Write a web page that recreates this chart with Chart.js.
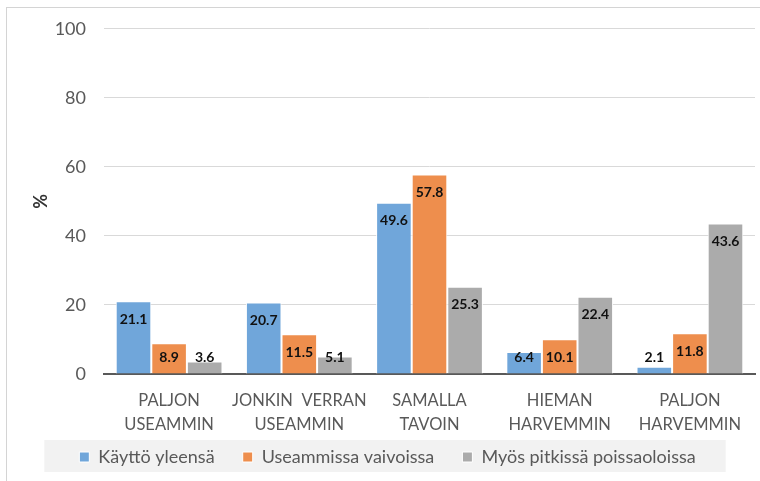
<!DOCTYPE html>
<html>
<head>
<meta charset="utf-8">
<script src="https://cdn.jsdelivr.net/npm/chart.js@4/dist/chart.umd.min.js"></script>
<style>
  html, body { margin: 0; padding: 0; background: #fff; overflow: hidden; }
  #frame { position: absolute; left: 6px; top: 7px; width: 800px; height: 520px; border: 1px solid #d4d4d4; }
  #wrap { position: absolute; left: 0; top: 0; width: 760px; height: 481px; }
</style>
</head>
<body>
<div id="frame"></div>
<div id="wrap"><canvas id="bar-chart" width="760" height="481"></canvas></div>
<script>
// カテゴリ
var categories = [
    ['PALJON', 'USEAMMIN'],
    ['JONKIN  VERRAN', 'USEAMMIN'],
    ['SAMALLA', 'TAVOIN'],
    ['HIEMAN', 'HARVEMMIN'],
    ['PALJON', 'HARVEMMIN']
];
// 系列
var seriesNames = ['Käyttö yleensä', 'Useammissa vaivoissa', 'Myös pitkissä poissaoloissa'];
var kaytto = [21.1, 20.7, 49.6, 6.4, 2.1];
var useammissa = [8.9, 11.5, 57.8, 10.1, 11.8];
var pitkissa = [3.6, 5.1, 25.3, 22.4, 43.6];
// 目盛
var yTicks = [0, 20, 40, 60, 80, 100];

var colors = ['#70A6DA', '#EE8E4D', '#ABABAB'];
var fontFamily = 'Lato, "Liberation Sans", sans-serif';

// 値ラベル（バーの上端の内側）
var valueLabels = {
    id: 'valueLabels',
    afterDatasetsDraw: function(chart) {
        var ctx = chart.ctx;
        ctx.save();
        ctx.font = 'bold 14px ' + fontFamily;
        ctx.fillStyle = '#111';
        ctx.textAlign = 'center';
        ctx.textBaseline = 'middle';
        chart.data.datasets.forEach(function(ds, i) {
            var meta = chart.getDatasetMeta(i);
            meta.data.forEach(function(bar, j) {
                var y = Math.min(bar.y + 18, bar.base - 16);
                ctx.fillText(ds.data[j].toFixed(1), bar.x, y);
            });
        });
        ctx.restore();
    }
};

// 凡例の背景
var legendBg = {
    id: 'legendBg',
    beforeDraw: function(chart) {
        var lg = chart.legend;
        if (!lg || !lg.legendHitBoxes || !lg.legendHitBoxes.length) return;
        var boxes = lg.legendHitBoxes;
        var first = boxes[0], last = boxes[boxes.length - 1];
        var ctx = chart.ctx;
        ctx.save();
        ctx.fillStyle = '#f2f2f2';
        ctx.fillRect(first.left - 35, first.top - 8, (last.left + last.width) - first.left + 65, first.height + 14);
        ctx.restore();
    }
};

var dataSet = [kaytto, useammissa, pitkissa].map(function(d, i) {
    return {
        label: seriesNames[i],
        data: d,
        backgroundColor: colors[i],
        borderColor: '#ffffff',
        borderWidth: 1,
        barPercentage: 1.0,
        categoryPercentage: 0.82
    };
});

new Chart(document.getElementById('bar-chart').getContext('2d'), {
    type: 'bar',
    data: { labels: categories, datasets: dataSet },
    plugins: [legendBg, valueLabels],
    options: {
        responsive: false,
        animation: false,
        devicePixelRatio: 1,
        layout: { padding: { left: 20, right: 5, top: 15, bottom: 5 } },
        plugins: {
            tooltip: { enabled: false },
            legend: {
                position: 'bottom',
                labels: {
                    boxWidth: 10,
                    boxHeight: 10,
                    padding: 10,
                    color: '#595959',
                    font: { size: 18, family: fontFamily },
                    // 項目の間隔を広げる（最後以外に空白を足す）
                    generateLabels: function(chart) {
                        var items = Chart.defaults.plugins.legend.labels.generateLabels(chart);
                        items.forEach(function(it, k) {
                            if (k < items.length - 1) it.text = it.text + '\u2003 ';
                        });
                        return items;
                    }
                }
            }
        },
        scales: {
            x: {
                afterFit: function(s) { s.height = 64; },
                grid: { display: false },
                border: { display: true, color: '#595959', width: 2 },
                ticks: {
                    color: '#595959',
                    maxRotation: 0,
                    autoSkip: false,
                    padding: 7,
                    font: { size: 16.5, family: fontFamily, lineHeight: 1.45 }
                }
            },
            y: {
                min: 0,
                max: 100,
                afterFit: function(s) { s.width = 84; },
                afterBuildTicks: function(s) { s.ticks = yTicks.map(function(v) { return { value: v }; }); },
                grid: { color: '#d9d9d9', drawTicks: false },
                border: { display: false },
                ticks: {
                    color: '#595959',
                    padding: 18,
                    font: { size: 18, family: fontFamily }
                },
                title: {
                    display: true,
                    text: '%',
                    color: '#333',
                    padding: { top: 10, bottom: 0 },
                    font: { size: 18, weight: 'bold', family: fontFamily }
                }
            }
        }
    }
});
</script>
</body>
</html>
